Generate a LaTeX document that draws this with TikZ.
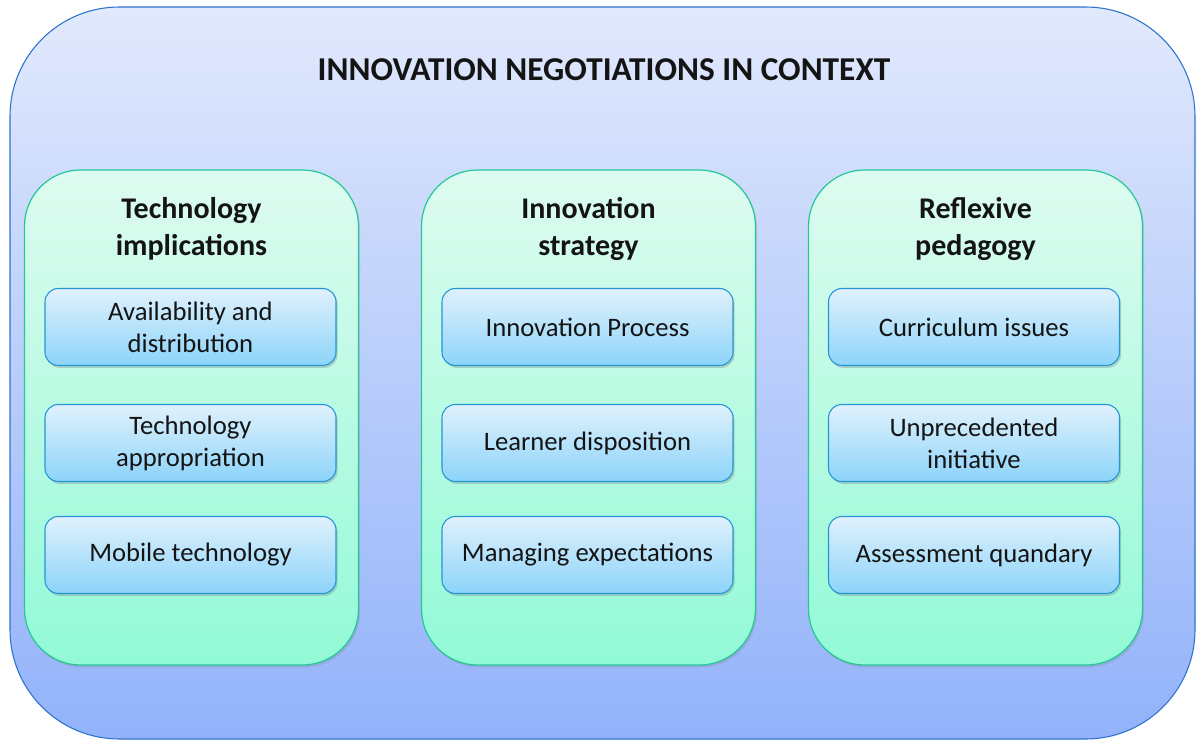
\documentclass[tikz,border=0pt]{standalone}
\usepackage{fontspec}
\setmainfont{Carlito}
\usetikzlibrary{shadows}
\definecolor{outerTop}{RGB}{225,233,252}
\definecolor{outerBot}{RGB}{146,178,250}
\definecolor{outerLine}{RGB}{45,115,205}
\definecolor{colTop}{RGB}{222,251,240}
\definecolor{colBot}{RGB}{146,250,214}
\definecolor{colLine}{RGB}{35,200,150}
\definecolor{boxTop}{RGB}{224,241,252}
\definecolor{boxBot}{RGB}{140,212,250}
\definecolor{boxLine}{RGB}{35,150,215}
\definecolor{txt}{RGB}{20,20,20}
\tikzset{
  outerbox/.style={rectangle, inner sep=0pt, outer sep=0pt, minimum width=888.75pt, minimum height=549pt,
    rounded corners=82pt, top color=outerTop, bottom color=outerBot, draw=outerLine, line width=0.8pt},
  colbox/.style={rectangle, inner sep=0pt, outer sep=0pt, minimum width=250.5pt, minimum height=371.25pt,
    rounded corners=42pt, top color=colTop, bottom color=colBot, draw=colLine, line width=0.9pt,
    drop shadow={opacity=0.25, shadow xshift=1.2pt, shadow yshift=-1.8pt}},
  itembox/.style={rectangle, inner sep=0pt, outer sep=0pt, minimum width=218.25pt, minimum height=57.75pt,
    rounded corners=10pt, top color=boxTop, bottom color=boxBot, draw=boxLine, line width=0.8pt,
    align=center, text=txt, font=\fontsize{20}{24}\selectfont,
    drop shadow={opacity=0.35, shadow xshift=1.2pt, shadow yshift=-1.8pt}},
  coltitle/.style={align=center, text=txt, font=\fontsize{22.5}{28}\selectfont\bfseries, inner sep=0pt},
  maintitle/.style={text=txt, font=\fontsize{25}{30}\selectfont\bfseries, inner sep=0pt}
}
\begin{document}
\begin{tikzpicture}[x=0.75pt,y=-0.75pt]
\useasboundingbox (0,0) rectangle (1196,740);
\node[outerbox] (outer) at (602.5,373) {};
\node[maintitle] (title) at (604,70) {INNOVATION NEGOTIATIONS IN CONTEXT};
% columns
\node[colbox] (c1) at (191.5,417.5) {};
\node[colbox] (c2) at (588.5,417.5) {};
\node[colbox] (c3) at (975.5,417.5) {};
\node[coltitle] (t1) at (191.5,229) {Technology\\implications};
\node[coltitle] (t2) at (588.5,229) {Innovation\\strategy};
\node[coltitle] (t3) at (975.5,229) {Reflexive\\pedagogy};
% items
\node[itembox] (a1) at (190.5,327) {Availability and\\distribution};
\node[itembox] (a2) at (190.5,443) {Technology\\appropriation};
\node[itembox] (a3) at (190.5,555) {Mobile technology};
\node[itembox] (b1) at (587.5,327) {Innovation Process};
\node[itembox] (b2) at (587.5,443) {Learner disposition};
\node[itembox] (b3) at (587.5,555) {Managing expectations};
\node[itembox] (d1) at (974,327) {Curriculum issues};
\node[itembox] (d2) at (974,443) {Unprecedented\\initiative};
\node[itembox] (d3) at (974,555) {Assessment quandary};
\end{tikzpicture}
\end{document}
